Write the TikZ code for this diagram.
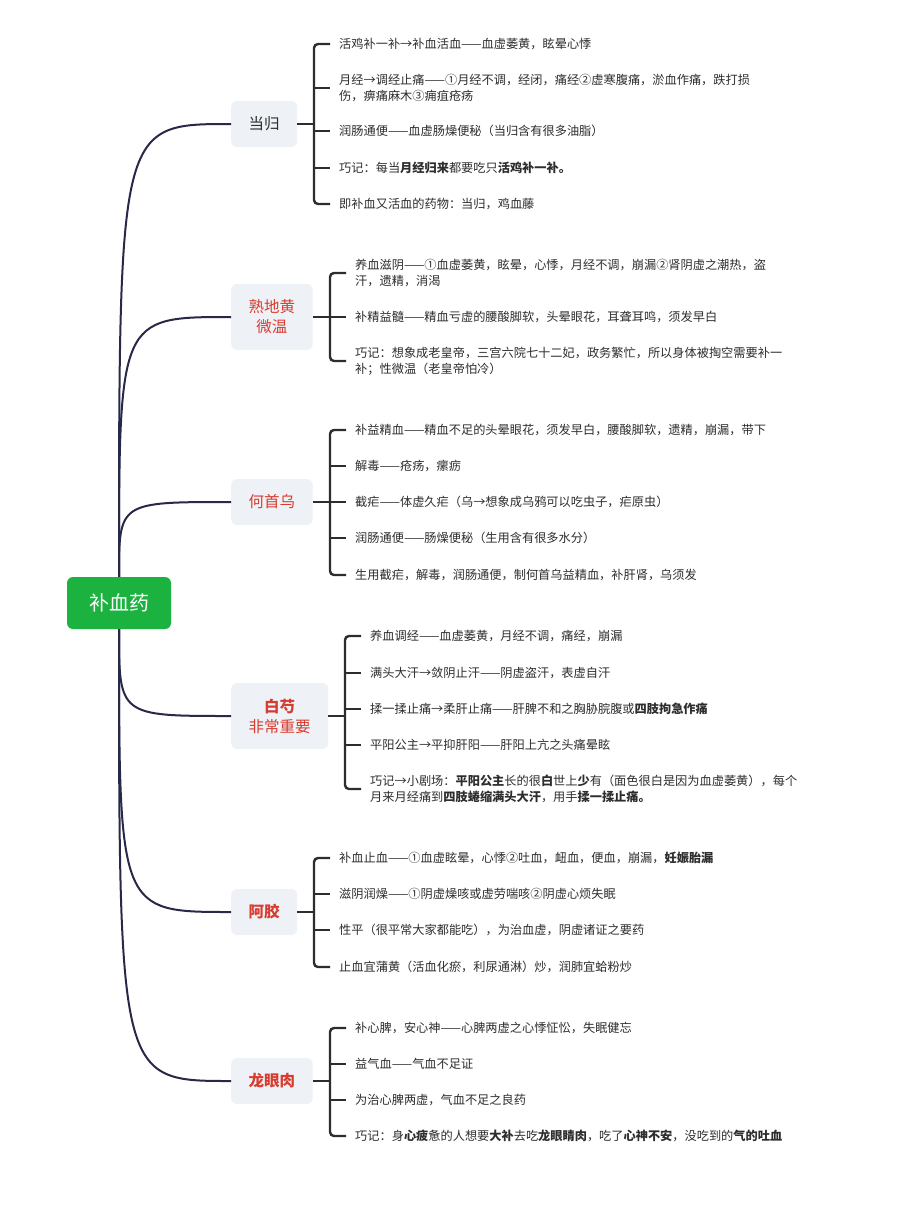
\documentclass[tikz,border=0pt]{standalone}
\usepackage{fontspec}
\setmainfont{Noto Sans CJK SC}
\usepackage{tikz}
\definecolor{rootgreen}{RGB}{28,178,64}
\definecolor{topicfill}{RGB}{238,241,245}
\definecolor{herbred}{RGB}{216,60,48}
\definecolor{textdark}{RGB}{45,45,45}
\definecolor{curveblue}{RGB}{40,40,72}

\begin{document}
\begin{tikzpicture}[x=1pt, y=-1pt,
    herb/.style={fill=topicfill, rounded corners=6pt, inner xsep=17.5pt, minimum height=46pt, anchor=west, align=center, text=herbred, font=\fontsize{15.5}{20}\selectfont},
    leaf/.style={anchor=west, inner sep=0pt, align=left, text=textdark, font=\fontsize{12.2}{16}\selectfont},
    curve/.style={draw=curveblue, line width=2pt},
    brace/.style={draw=textdark, line width=2.4pt, rounded corners=4pt}]

    % page
    \fill[white] (0,0) rectangle (912,1216);

    % Root
    \node (root) [fill=rootgreen, rounded corners=6pt, minimum width=104pt, minimum height=52pt, text=white, font=\fontsize{20}{24}\selectfont] at (119,603) {补血药};

    % Herbs
    \node (dg) [herb, text=textdark] at (231,124) {当归};
    \node (sdh) [herb, minimum height=66pt] at (231,317) {熟地黄\\微温};
    \node (hsw) [herb] at (231,502) {何首乌};
    \node (bs) [herb, minimum height=66pt] at (231,716) {\textbf{白芍}\\非常重要};
    \node (ej) [herb] at (231,912) {\textbf{阿胶}};
    \node (lyr) [herb] at (231,1081) {\textbf{龙眼肉}};

    % Curves
    \draw[curve] (root.north) .. controls (root.north |- dg.west) .. (dg.west);
    \draw[curve] (root.north) .. controls (root.north |- sdh.west) .. (sdh.west);
    \draw[curve] (root.north) .. controls (root.north |- hsw.west) .. (hsw.west);
    \draw[curve] (root.south) .. controls (root.south |- bs.west) .. (bs.west);
    \draw[curve] (root.south) .. controls (root.south |- ej.west) .. (ej.west);
    \draw[curve] (root.south) .. controls (root.south |- lyr.west) .. (lyr.west);

    % 当归
    \node (dg1) [leaf] at (339,44) {活鸡补一补→补血活血——血虚萎黄，眩晕心悸};
    \node (dg2) [leaf] at (339,88) {月经→调经止痛——①月经不调，经闭，痛经②虚寒腹痛，淤血作痛，跌打损\\伤，痹痛麻木③痈疽疮疡};
    \node (dg3) [leaf] at (339,131) {润肠通便——血虚肠燥便秘（当归含有很多油脂）};
    \node (dg4) [leaf] at (339,168) {巧记：每当\textbf{月经归来}都要吃只\textbf{活鸡补一补。}};
    \node (dg5) [leaf] at (339,204) {即补血又活血的药物：当归，鸡血藤};
    \coordinate (dgb) at ([xshift=-25pt]dg1.west);
    \draw[brace] (dg.east) -- (dgb |- dg.east);
    \draw[brace] ([xshift=-9pt]dg1.west) -| ([xshift=-25pt]dg5.west) -- ([xshift=-9pt]dg5.west);
    \foreach \k in {2,3,4}
        \draw[brace] (dgb |- dg\k.west) -- ([xshift=-9pt]dg\k.west);

    % 熟地黄
    \node (sdh1) [leaf] at (355,273) {养血滋阴——①血虚萎黄，眩晕，心悸，月经不调，崩漏②肾阴虚之潮热，盗\\汗，遗精，消渴};
    \node (sdh2) [leaf] at (355,317) {补精益髓——精血亏虚的腰酸脚软，头晕眼花，耳聋耳鸣，须发早白};
    \node (sdh3) [leaf] at (355,361) {巧记：想象成老皇帝，三宫六院七十二妃，政务繁忙，所以身体被掏空需要补一\\补；性微温（老皇帝怕冷）};
    \coordinate (sdhb) at ([xshift=-25pt]sdh1.west);
    \draw[brace] (sdh.east) -- (sdhb |- sdh.east);
    \draw[brace] ([xshift=-9pt]sdh1.west) -| ([xshift=-25pt]sdh3.west) -- ([xshift=-9pt]sdh3.west);
    \draw[brace] (sdhb |- sdh2.west) -- ([xshift=-9pt]sdh2.west);

    % 何首乌
    \node (hsw1) [leaf] at (355,430) {补益精血——精血不足的头晕眼花，须发早白，腰酸脚软，遗精，崩漏，带下};
    \node (hsw2) [leaf] at (355,466) {解毒——疮疡，瘰疬};
    \node (hsw3) [leaf] at (355,502) {截疟——体虚久疟（乌→想象成乌鸦可以吃虫子，疟原虫）};
    \node (hsw4) [leaf] at (355,538) {润肠通便——肠燥便秘（生用含有很多水分）};
    \node (hsw5) [leaf] at (355,575) {生用截疟，解毒，润肠通便，制何首乌益精血，补肝肾，乌须发};
    \coordinate (hswb) at ([xshift=-25pt]hsw1.west);
    \draw[brace] (hsw.east) -- (hswb |- hsw.east);
    \draw[brace] ([xshift=-9pt]hsw1.west) -| ([xshift=-25pt]hsw5.west) -- ([xshift=-9pt]hsw5.west);
    \foreach \k in {2,3,4}
        \draw[brace] (hswb |- hsw\k.west) -- ([xshift=-9pt]hsw\k.west);

    % 白芍
    \node (bs1) [leaf] at (370,636) {养血调经——血虚萎黄，月经不调，痛经，崩漏};
    \node (bs2) [leaf] at (370,673) {满头大汗→敛阴止汗——阴虚盗汗，表虚自汗};
    \node (bs3) [leaf] at (370,709) {揉一揉止痛→柔肝止痛——肝脾不和之胸胁脘腹或\textbf{四肢拘急作痛}};
    \node (bs4) [leaf] at (370,745) {平阳公主→平抑肝阳——肝阳上亢之头痛晕眩};
    \node (bs5) [leaf] at (370,789) {巧记→小剧场：\textbf{平阳公主}长的很\textbf{白}世上\textbf{少}有（面色很白是因为血虚萎黄），每个\\月来月经痛到\textbf{四肢蜷缩满头大汗}，用手\textbf{揉一揉止痛。}};
    \coordinate (bsb) at ([xshift=-25pt]bs1.west);
    \draw[brace] (bs.east) -- (bsb |- bs.east);
    \draw[brace] ([xshift=-9pt]bs1.west) -| ([xshift=-25pt]bs5.west) -- ([xshift=-9pt]bs5.west);
    \foreach \k in {2,3,4}
        \draw[brace] (bsb |- bs\k.west) -- ([xshift=-9pt]bs\k.west);

    % 阿胶
    \node (ej1) [leaf] at (339,858) {补血止血——①血虚眩晕，心悸②吐血，衄血，便血，崩漏，\textbf{妊娠胎漏}};
    \node (ej2) [leaf] at (339,894) {滋阴润燥——①阴虚燥咳或虚劳喘咳②阴虚心烦失眠};
    \node (ej3) [leaf] at (339,930) {性平（很平常大家都能吃），为治血虚，阴虚诸证之要药};
    \node (ej4) [leaf] at (339,967) {止血宜蒲黄（活血化瘀，利尿通淋）炒，润肺宜蛤粉炒};
    \coordinate (ejb) at ([xshift=-25pt]ej1.west);
    \draw[brace] (ej.east) -- (ejb |- ej.east);
    \draw[brace] ([xshift=-9pt]ej1.west) -| ([xshift=-25pt]ej4.west) -- ([xshift=-9pt]ej4.west);
    \foreach \k in {2,3}
        \draw[brace] (ejb |- ej\k.west) -- ([xshift=-9pt]ej\k.west);

    % 龙眼肉
    \node (lyr1) [leaf] at (355,1028) {补心脾，安心神——心脾两虚之心悸怔忪，失眠健忘};
    \node (lyr2) [leaf] at (355,1064) {益气血——气血不足证};
    \node (lyr3) [leaf] at (355,1100) {为治心脾两虚，气血不足之良药};
    \node (lyr4) [leaf] at (355,1136) {巧记：身\textbf{心疲}惫的人想要\textbf{大补}去吃\textbf{龙眼睛肉}，吃了\textbf{心神不安}，没吃到的\textbf{气的吐血}};
    \coordinate (lyrb) at ([xshift=-25pt]lyr1.west);
    \draw[brace] (lyr.east) -- (lyrb |- lyr.east);
    \draw[brace] ([xshift=-9pt]lyr1.west) -| ([xshift=-25pt]lyr4.west) -- ([xshift=-9pt]lyr4.west);
    \foreach \k in {2,3}
        \draw[brace] (lyrb |- lyr\k.west) -- ([xshift=-9pt]lyr\k.west);

\end{tikzpicture}
\end{document}
